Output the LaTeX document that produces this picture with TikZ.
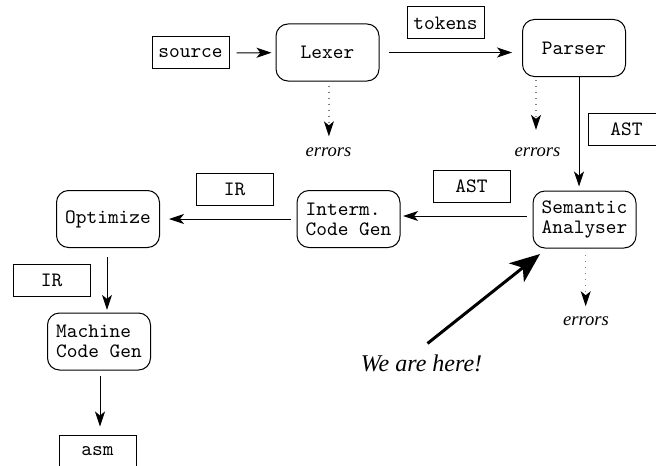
\documentclass[tikz,border=0pt]{standalone}
\usepackage{fontspec}
\setmainfont{Liberation Serif}
\usetikzlibrary{arrows.meta}

\tikzset{
	stage/.style={draw, line width=0.5pt, rounded corners=6pt, minimum width=51.5pt, minimum height=28.5pt, align=left, inner sep=2pt, font=\ttfamily\fontsize{10.2}{10}\selectfont},
	datum/.style={draw, line width=0.5pt, minimum width=38.5pt, minimum height=16pt, inner sep=0pt, font=\ttfamily\fontsize{10.2}{10}\selectfont},
	note/.style={inner sep=0pt, font=\itshape\fontsize{9.3}{11}\selectfont},
	flow/.style={-{Stealth[length=7.5pt,width=5pt,inset=2pt]}, line width=0.5pt},
	errflow/.style={-{Stealth[length=7.5pt,width=5pt,inset=2pt,black]}, line width=0.6pt, draw=gray, dash pattern=on 0.5pt off 2.5pt},
	bigflow/.style={-{Stealth[length=15pt,width=12pt,inset=4pt]}, line width=1.5pt}
}

\begin{document}
\begin{tikzpicture}[x=0.5pt, y=-0.5pt]

	\useasboundingbox (0,0) rectangle (656,465);
	\clip (0,0) rectangle (656,465);

	% front end
	\node[datum] (source) at (190.5,53) {source};
	\node[stage] (lexer) at (327.5,52.5) {Lexer};
	\node[datum] (tokens) at (445.5,23) {tokens};
	\node[stage] (parser) at (574,48) {Parser};
	\node[datum] (astP) at (626.5,129) {AST};
	\node[stage] (semantic) at (584.5,219.5) {Semantic\\Analyser};

	% back end
	\node[datum] (astS) at (471.5,186.5) {AST};
	\node[stage] (interm) at (348.5,219) {Interm.\\Code Gen};
	\node[datum] (irI) at (234.5,189) {IR};
	\node[stage] (optimize) at (108,219) {Optimize};
	\node[datum] (irO) at (51.5,280) {IR};
	\node[stage] (machine) at (99,341.5) {Machine\\Code Gen};
	\node[datum] (asm) at (97.5,451) {asm};

	% errors
	\node[note, anchor=base] (errL) at (328.5,156.5) {errors};
	\node[note, anchor=base] (errP) at (537.5,156) {errors};
	\node[note, anchor=base] (errS) at (586,325) {errors};

	\node[note, anchor=base, font=\itshape\fontsize{12}{14}\selectfont] (here) at (421.5,371.5) {We are here!};
	\coordinate (spot) at (540,254);

	\draw[flow, shorten <=3.5pt, shorten >=2pt] (source) -- (lexer);
	\draw[flow, shorten <=4.5pt, shorten >=5pt] (lexer.east) -- (lexer.east -| parser.west);
	\draw[flow, shorten >=2pt] ([xshift=2.5pt]parser.south) -- ([xshift=2.5pt]parser.south |- semantic.north);
	\draw[flow, shorten <=3pt, shorten >=1.3pt] ([yshift=1.75pt]semantic.west) -- ([yshift=1.75pt]semantic.west -| interm.east);
	\draw[flow, shorten <=3pt, shorten >=4.5pt] (interm) -- (optimize);
	\draw[flow, shorten <=4.5pt, shorten >=1.3pt] ([xshift=-0.5pt]optimize.south) -- ([xshift=-0.5pt]optimize.south |- machine.north);
	\draw[flow, shorten <=2.5pt, shorten >=4pt] ([xshift=0.5pt]machine.south) -- ([xshift=0.5pt]machine.south |- asm.north);

	\draw[errflow, shorten <=2pt, shorten >=5.5pt] ([xshift=0.7pt]lexer.south) -- ([xshift=0.7pt]lexer.south |- errL.north);
	\draw[errflow, shorten <=1.5pt, shorten >=8.5pt] ([xshift=-19pt]parser.south) -- ([xshift=-19pt]parser.south |- errP.north);
	\draw[errflow, shorten <=3.3pt, shorten >=4.8pt] ([xshift=0.6pt]semantic.south) -- ([xshift=0.6pt]semantic.south |- errS.north);

	\draw[bigflow] ([shift={(3pt,5.5pt)}]here.north) -- (spot);

\end{tikzpicture}
\end{document}
